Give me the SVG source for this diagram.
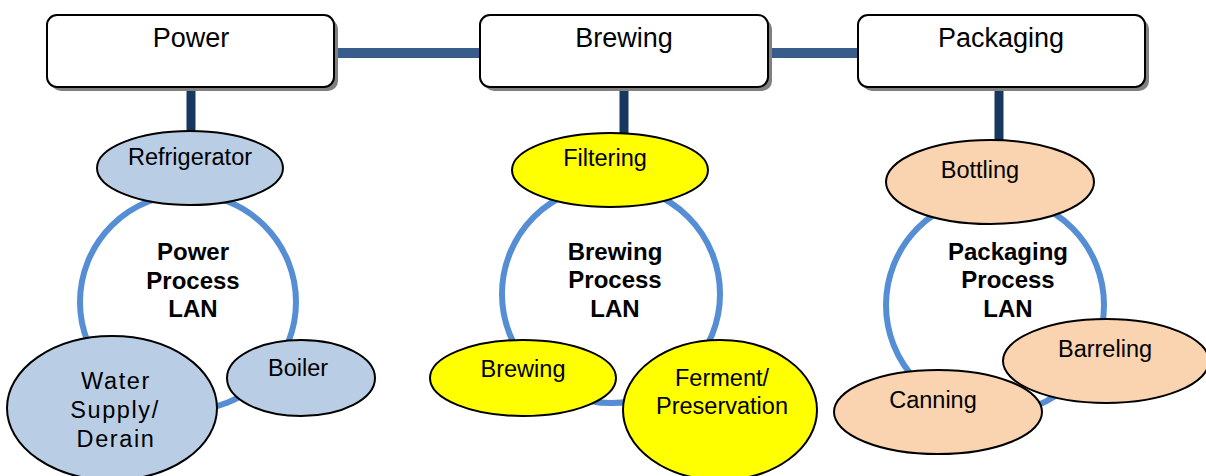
<svg xmlns="http://www.w3.org/2000/svg" width="1206" height="476" viewBox="0 0 1206 476">
<style>
.box{fill:#fff;stroke:#000;stroke-width:2}
.shadow{fill:#808080}
.btxt{font-family:"Liberation Sans",Arial,sans-serif;font-size:27px;fill:#000;text-anchor:middle}
.ntxt{font-family:"Liberation Sans",Arial,sans-serif;font-size:23.5px;fill:#000;text-anchor:middle}
.wtxt{font-family:"Liberation Sans",Arial,sans-serif;font-size:23.5px;fill:#000;text-anchor:middle;letter-spacing:1.6px}
.ltxt{font-family:"Liberation Sans",Arial,sans-serif;font-size:24px;font-weight:bold;fill:#000;text-anchor:middle}
.ring{fill:none;stroke:#558ED5;stroke-width:6}
.blue{fill:#B9CDE5;stroke:#000;stroke-width:2}
.yel{fill:#FFFF00;stroke:#000;stroke-width:2}
.pch{fill:#FAD3B0;stroke:#000;stroke-width:2}
.hl{stroke:#385D8A;stroke-width:10}
.vl{stroke:#17375E;stroke-width:9}
</style>
<rect width="1206" height="476" fill="#fff"/>
<g id="connectors">
<line class="hl" x1="334" y1="53" x2="480" y2="53"/>
<line class="hl" x1="768" y1="53" x2="858" y2="53"/>
<line class="vl" x1="191" y1="87" x2="191" y2="133"/>
<line class="vl" x1="624" y1="87" x2="624" y2="134"/>
<line class="vl" x1="999" y1="87" x2="999" y2="141"/>
</g>
<g id="power">
<rect class="shadow" x="51" y="19" width="287" height="72" rx="10"/>
<rect class="box" x="47" y="15" width="287" height="72" rx="10"/>
<text class="btxt" x="191" y="47">Power</text>
</g>
<g id="brewing">
<rect class="shadow" x="484" y="19" width="288" height="72" rx="10"/>
<rect class="box" x="480" y="15" width="288" height="72" rx="10"/>
<text class="btxt" x="624" y="47">Brewing</text>
</g>
<g id="packaging">
<rect class="shadow" x="862" y="19" width="287" height="72" rx="10"/>
<rect class="box" x="858" y="15" width="287" height="72" rx="10"/>
<text class="btxt" x="1001" y="47">Packaging</text>
</g>
<g id="power-lan">
<circle class="ring" cx="188" cy="302" r="108"/>
<text class="ltxt" x="193" y="260">Power</text>
<text class="ltxt" x="193" y="289">Process</text>
<text class="ltxt" x="193" y="317">LAN</text>
</g>
<g id="refrigerator">
<ellipse class="blue" cx="190" cy="168" rx="93" ry="37"/>
<text class="ntxt" x="190" y="165">Refrigerator</text>
</g>
<g id="boiler">
<ellipse class="blue" cx="301" cy="378" rx="74" ry="38"/>
<text class="ntxt" x="298" y="376">Boiler</text>
</g>
<g id="water">
<ellipse class="blue" cx="112" cy="408" rx="105" ry="72"/>
<text class="wtxt" x="116" y="389">Water</text>
<text class="wtxt" x="115" y="418">Supply/</text>
<text class="wtxt" x="116" y="447">Derain</text>
</g>
<g id="brewing-lan">
<circle class="ring" cx="611" cy="294" r="109"/>
<text class="ltxt" x="615" y="260">Brewing</text>
<text class="ltxt" x="615" y="288">Process</text>
<text class="ltxt" x="615" y="317">LAN</text>
</g>
<g id="filtering">
<ellipse class="yel" cx="610" cy="170" rx="98" ry="37"/>
<text class="ntxt" x="605" y="166">Filtering</text>
</g>
<g id="brewing-node">
<ellipse class="yel" cx="523" cy="378" rx="93" ry="38"/>
<text class="ntxt" x="523" y="377">Brewing</text>
</g>
<g id="ferment">
<ellipse class="yel" cx="720" cy="410" rx="97" ry="70"/>
<text class="ntxt" x="722" y="386">Ferment/</text>
<text class="ntxt" x="722" y="414">Preservation</text>
</g>
<g id="packaging-lan">
<circle class="ring" cx="995" cy="305" r="109"/>
<text class="ltxt" x="1008" y="260">Packaging</text>
<text class="ltxt" x="1008" y="288">Process</text>
<text class="ltxt" x="1008" y="317">LAN</text>
</g>
<g id="bottling">
<ellipse class="pch" cx="990" cy="182" rx="104" ry="42"/>
<text class="ntxt" x="980" y="178">Bottling</text>
</g>
<g id="barreling">
<ellipse class="pch" cx="1106" cy="361" rx="103" ry="42"/>
<text class="ntxt" x="1105" y="357">Barreling</text>
</g>
<g id="canning">
<ellipse class="pch" cx="938" cy="412" rx="104" ry="42"/>
<text class="ntxt" x="933" y="408">Canning</text>
</g>
</svg>
